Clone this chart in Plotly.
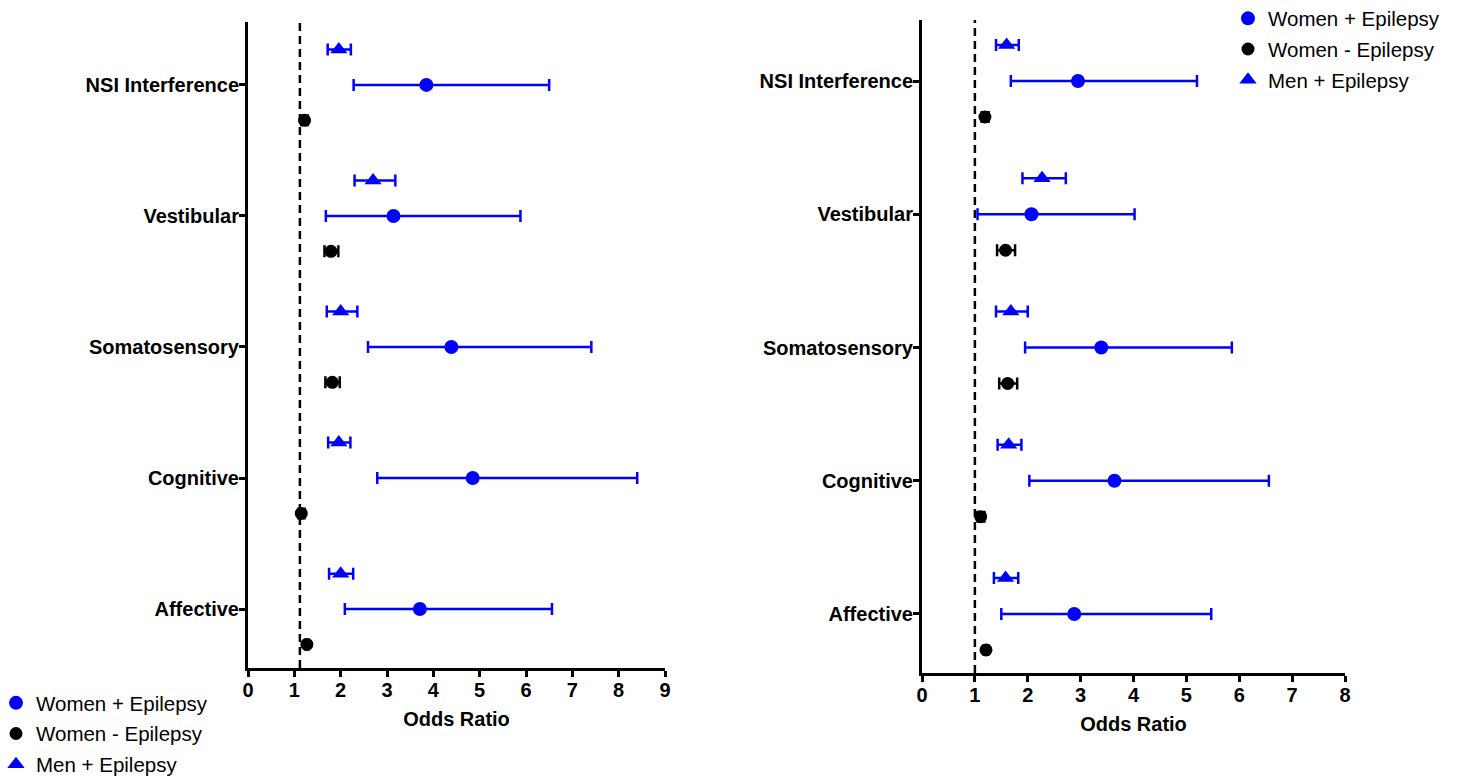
import plotly.graph_objects as go

categories = ["NSI Interference", "Vestibular", "Somatosensory", "Cognitive", "Affective"]
series_names = ["Women + Epilepsy", "Women - Epilepsy", "Men + Epilepsy"]

# Left panel (odds ratio, lower CI, upper CI)
left_women_epi = [3.85, 3.14, 4.39, 4.85, 3.71]
left_women_epi_lo = [2.28, 1.68, 2.59, 2.79, 2.09]
left_women_epi_hi = [6.50, 5.88, 7.41, 8.40, 6.56]
left_women_noepi = [1.22, 1.79, 1.82, 1.15, 1.27]
left_women_noepi_lo = [1.15, 1.65, 1.67, 1.09, 1.23]
left_women_noepi_hi = [1.29, 1.95, 1.98, 1.22, 1.31]
left_men_epi = [1.96, 2.70, 2.00, 1.96, 2.00]
left_men_epi_lo = [1.72, 2.30, 1.70, 1.73, 1.75]
left_men_epi_hi = [2.22, 3.18, 2.36, 2.21, 2.27]
left_ref_line = 1.12

# Right panel
right_women_epi = [2.95, 2.07, 3.39, 3.64, 2.88]
right_women_epi_lo = [1.68, 1.05, 1.95, 2.03, 1.50]
right_women_epi_hi = [5.20, 4.02, 5.86, 6.56, 5.47]
right_women_noepi = [1.19, 1.58, 1.62, 1.11, 1.21]
right_women_noepi_lo = [1.13, 1.42, 1.46, 1.05, 1.17]
right_women_noepi_hi = [1.26, 1.76, 1.80, 1.18, 1.25]
right_men_epi = [1.60, 2.27, 1.68, 1.64, 1.58]
right_men_epi_lo = [1.40, 1.90, 1.40, 1.43, 1.36]
right_men_epi_hi = [1.83, 2.72, 2.00, 1.88, 1.82]
right_ref_line = 1.0

left_ticks = list(range(0, 10))
right_ticks = list(range(0, 9))

FONT = "Arial, Liberation Sans, sans-serif"
BLUE = "#0000FF"
BLACK = "#000000"

n = len(categories)
ypos = [n - 1 - i for i in range(n)]
OFF = 0.27

W, H = 1460, 779


def px(xp):
    return xp / W


def py(yp):
    return 1 - yp / H


fig = go.Figure()


def add_series(vals, lo, hi, color, symbol, name, offset, xa, ya, legend, size):
    fig.add_trace(go.Scatter(
        x=vals, y=[p + offset for p in ypos], mode="markers", name=name,
        xaxis=xa, yaxis=ya, legend=legend,
        marker=dict(color=color, symbol=symbol, size=size),
        error_x=dict(type="data", symmetric=False,
                     array=[h - v for h, v in zip(hi, vals)],
                     arrayminus=[v - l for v, l in zip(vals, lo)],
                     color=color, thickness=2.5, width=6),
        showlegend=True, legendgroup=name + legend,
    ))


for xa, ya, lg, we, wel, weh, wn, wnl, wnh, me, mel, meh in [
    ("x", "y", "legend", left_women_epi, left_women_epi_lo, left_women_epi_hi,
     left_women_noepi, left_women_noepi_lo, left_women_noepi_hi,
     left_men_epi, left_men_epi_lo, left_men_epi_hi),
    ("x2", "y2", "legend2", right_women_epi, right_women_epi_lo, right_women_epi_hi,
     right_women_noepi, right_women_noepi_lo, right_women_noepi_hi,
     right_men_epi, right_men_epi_lo, right_men_epi_hi),
]:
    add_series(we, wel, weh, BLUE, "circle", series_names[0], 0, xa, ya, lg, 14)
    add_series(wn, wnl, wnh, BLACK, "circle", series_names[1], -OFF, xa, ya, lg, 13)
    add_series(me, mel, meh, BLUE, "triangle-up", series_names[2], OFF, xa, ya, lg, 15)

# reference lines
for xref, yref, xv in [("x", "y domain", left_ref_line), ("x2", "y2 domain", right_ref_line)]:
    fig.add_shape(type="line", xref=xref, yref=yref, x0=xv, x1=xv, y0=0, y1=1,
                  line=dict(color=BLACK, width=2.5, dash="8px,5px"), layer="below")

axis_common = dict(showgrid=False, zeroline=False, showline=True, linecolor=BLACK,
                   linewidth=3, ticks="outside", ticklen=6, tickwidth=2.5, tickcolor=BLACK,
                   ticklabelstandoff=-4,
                   tickfont=dict(family=FONT, size=20, color=BLACK, weight="bold"))

title_font = dict(family=FONT, size=20, color=BLACK, weight="bold")
legend_font = dict(family=FONT, size=20.5, color=BLACK)

fig.update_layout(
    width=W, height=H, margin=dict(l=0, r=0, t=0, b=0, autoexpand=False),
    paper_bgcolor="white", plot_bgcolor="white",
    font=dict(family=FONT, color=BLACK),
    xaxis=dict(domain=[px(248), px(665)], range=[0, 9], tickvals=left_ticks,
               anchor="y",
               title=dict(text="Odds Ratio", font=title_font, standoff=12),
               **axis_common),
    yaxis=dict(domain=[py(668), py(22)], range=[-0.45, 4.48], tickvals=ypos,
               ticktext=categories, anchor="x", **axis_common),
    xaxis2=dict(domain=[px(922), px(1345)], range=[0, 8], tickvals=right_ticks,
                anchor="y2",
                title=dict(text="Odds Ratio", font=title_font, standoff=12),
                **axis_common),
    yaxis2=dict(domain=[py(673), py(20)], range=[-0.443, 4.458], tickvals=ypos,
                ticktext=categories, anchor="x2", **axis_common),
    legend=dict(x=px(-4), xanchor="left", y=py(683), yanchor="top",
                font=legend_font, tracegroupgap=1,
                traceorder="grouped", bgcolor="rgba(0,0,0,0)"),
    legend2=dict(x=px(1228), xanchor="left", y=py(-1.5), yanchor="top",
                 font=legend_font, tracegroupgap=1,
                 traceorder="grouped", bgcolor="rgba(0,0,0,0)"),
)

fig.write_html("out.html")
